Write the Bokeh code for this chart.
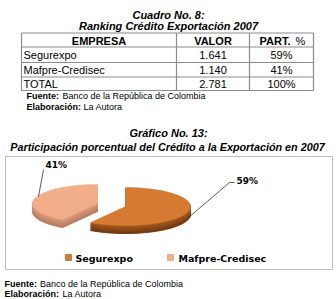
import math
from bokeh.plotting import figure
from bokeh.models import Range1d
from bokeh.core.properties import value
from bokeh.embed import file_html
from bokeh.resources import INLINE

# ---------------- data ----------------
table_title = ["Cuadro No. 8:", "Ranking Crédito Exportación 2007"]
headers = ["EMPRESA", "VALOR", "PART."]
empresas = ["Segurexpo", "Mafpre-Credisec"]
valores = [1641, 1140]
valores_txt = ["1.641", "1.140"]
part_txt = ["59%", "41%"]
total_row = ["TOTAL", "2.781", "100%"]
chart_title = ["Gráfico No. 13:", "Participación porcentual del Crédito a la Exportación en 2007"]
fuente = ["Fuente:", "Banco de la República de Colombia"]
elaboracion = ["Elaboración:", "La Autora"]

# ---------------- styles ----------------
ARIAL = value("Liberation Sans")
DEJ = value("DejaVu Sans")
top_colors = ["#D47A32", "#F2AE89"]
side_dark = ["#6E370F", "#B87A5E"]
side_light = ["#A9591F", "#DC9D7E"]
grid_col = "#8C8C8C"

W, H = 336, 299
p = figure(width=W, height=H, x_range=Range1d(0, W), y_range=Range1d(H, 0),
           output_backend="svg", toolbar_location=None, min_border=0,
           x_axis_location=None, y_axis_location=None)
p.grid.visible = False
p.outline_line_color = None
p.background_fill_color = "white"
p.border_fill_color = "white"


def txt(x, y, t, size, style="normal", align="left", font=ARIAL, color="black"):
    p.text(x=[x], y=[y], text=[t], text_font=font, text_font_size=size,
           text_font_style=style, text_align=align, text_baseline="middle",
           text_color=color)


# ---------------- table ----------------
txt(168, 14, table_title[0], "11px", "bold italic", "center")
txt(168, 25.5, table_title[1], "11px", "bold italic", "center")

col_x = [21, 176, 249, 313]
row_y = [32.5, 46.5, 62, 76.5, 90]
p.segment(x0=[col_x[0]] * len(row_y), x1=[col_x[-1]] * len(row_y), y0=row_y, y1=row_y,
          line_color=grid_col, line_width=1.2)
p.segment(x0=col_x, x1=col_x, y0=[row_y[0]] * len(col_x), y1=[row_y[-1]] * len(col_x),
          line_color=grid_col, line_width=1.2)

hy = (row_y[0] + row_y[1]) / 2 + 0.5
txt((col_x[0] + col_x[1]) / 2, hy, headers[0], "11px", "bold", "center")
txt((col_x[1] + col_x[2]) / 2, hy, headers[1], "11px", "bold", "center")
txt(259, hy, headers[2], "11px", "bold", "left")
txt(295, hy, "%", "11px", "normal", "left")

rows = [[empresas[i], valores_txt[i], part_txt[i]] for i in range(len(empresas))] + [total_row]
for i, r in enumerate(rows):
    cy = (row_y[i + 1] + row_y[i + 2]) / 2 + 0.5
    txt(col_x[0] + 2, cy, r[0], "11px")
    txt((col_x[1] + col_x[2]) / 2, cy, r[1], "11px", align="center")
    txt((col_x[2] + col_x[3]) / 2, cy, r[2], "11px", align="center")

txt(26, 95.5, fuente[0], "9px", "bold")
txt(62, 95.5, fuente[1], "9px")
txt(26, 106.5, elaboracion[0], "9px", "bold")
txt(83, 106.5, elaboracion[1], "9px")

# ---------------- chart ----------------
txt(168, 132, chart_title[0], "11px", "bold italic", "center")
txt(167, 146, chart_title[1], "10.8px", "bold italic", "center")

p.quad(left=[5], right=[332], top=[156], bottom=[269], fill_color=None,
       line_color="#BDBDBD", line_width=1)

total = sum(valores)
centers = [(125, 206), (97, 203)]
A, B, DEPTH = 65, 19, 8


def slice_poly(cx, cy, t0, t1, n=80):
    xs, ys = [cx], [cy]
    for k in range(n + 1):
        t = math.radians(t0 + (t1 - t0) * k / n)
        xs.append(cx + A * math.sin(t))
        ys.append(cy - B * math.cos(t))
    return xs, ys


def mix(c1, c2, f):
    a = [int(c1[i:i + 2], 16) for i in (1, 3, 5)]
    b = [int(c2[i:i + 2], 16) for i in (1, 3, 5)]
    return "#%02x%02x%02x" % tuple(int(round(a[j] + (b[j] - a[j]) * f)) for j in range(3))


start = 0.0
for i, v in enumerate(valores):
    sweep = 360.0 * v / total
    cx, cy = centers[i]
    xs, ys = slice_poly(cx, cy, start, start + sweep)
    for d in range(DEPTH, 0, -1):
        c = mix(side_light[i], side_dark[i], d / DEPTH)
        p.patch(xs, [y + d for y in ys], fill_color=c, line_color=c, line_width=1)
    p.patch(xs, ys, fill_color=top_colors[i], line_color=top_colors[i], line_width=0.5)
    start += sweep

# leader lines and labels
p.line([43, 38], [169, 196], line_color="#333333", line_width=0.8)
txt(45, 164, part_txt[1], "9px", "bold", font=DEJ)
p.line([234, 229, 188], [182, 182, 217], line_color="#333333", line_width=0.8)
txt(236, 180, part_txt[0], "9px", "bold", font=DEJ)

# legend
p.rect(x=[68, 170], y=[257, 257], width=6, height=6, fill_color=top_colors,
       line_color=top_colors)
txt(75, 257.5, empresas[0], "9.5px", "bold", font=DEJ)
txt(178, 257.5, empresas[1], "9.5px", "bold", font=DEJ)

txt(4, 283, fuente[0], "9px", "bold")
txt(39.5, 283, fuente[1], "9px")
txt(4, 293, elaboracion[0], "9px", "bold")
txt(62, 293, elaboracion[1], "9px")

open("out.html", "w").write(file_html(p, INLINE))
